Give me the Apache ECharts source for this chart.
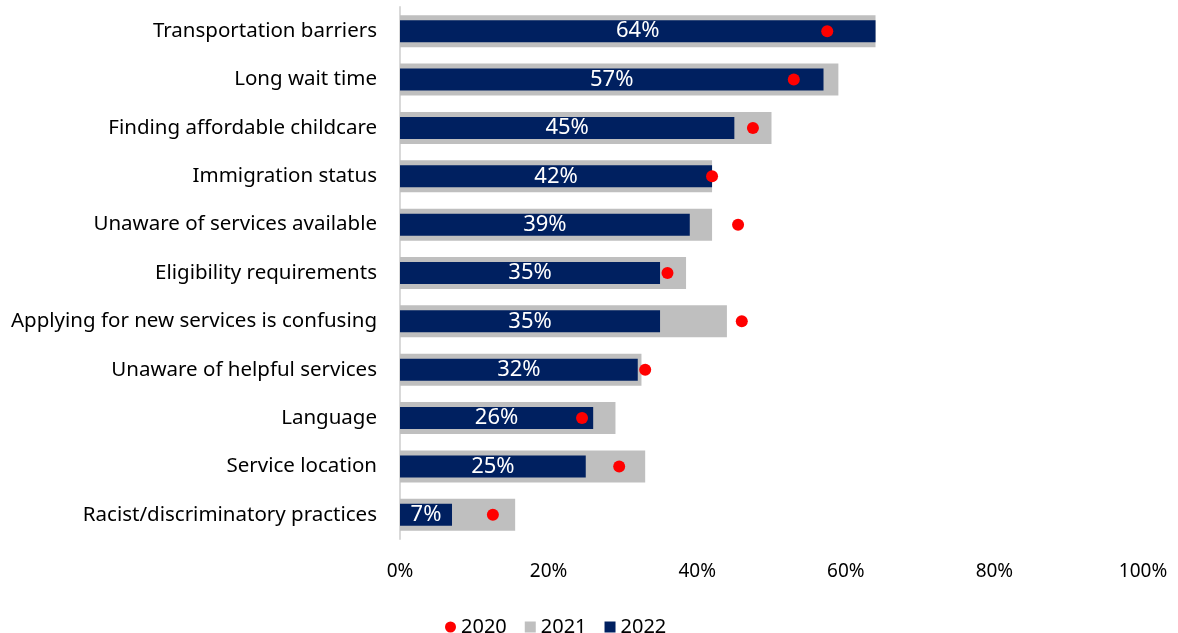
<!DOCTYPE html>
<html>
<head>
    <meta charset="UTF-8">
    <title>barriers</title>
    <script src="https://cdn.jsdelivr.net/npm/echarts@6/dist/echarts.min.js"></script>
    <style>
        *{margin:0;padding:0}
        html, body{ width:100%; height:100%; background:#fff; }
        #main{ width:1178px; height:633px; }
    </style>
</head>
<body>
    <div id="main"></div>
    <script type="text/javascript">
        var categories = [
            'Transportation barriers',
            'Long wait time',
            'Finding affordable childcare',
            'Immigration status',
            'Unaware of services available',
            'Eligibility requirements',
            'Applying for new services is confusing',
            'Unaware of helpful services',
            'Language',
            'Service location',
            'Racist/discriminatory practices'
        ];
        var values2020 = [57.5, 53, 47.5, 42, 45.5, 36, 46, 33, 24.5, 29.5, 12.5];
        var values2021 = [64, 59, 50, 42, 42, 38.5, 44, 32.5, 29, 33, 15.5];
        var values2022 = [64, 57, 45, 42, 39, 35, 35, 32, 26, 25, 7];
        var xTicks = [0, 20, 40, 60, 80, 100];

        var font = 'Noto Sans';
        var myChart = echarts.init(document.getElementById('main'));
        var option = {
            animation: false,
            textStyle: { fontFamily: font },
            grid: { left: 400, right: 35, top: 7, bottom: 94, containLabel: false },
            legend: {
                top: 612,
                left: 440,
                itemGap: 18,
                itemWidth: 11,
                itemHeight: 11,
                textStyle: { fontSize: 20, color: '#000', fontFamily: font },
                data: [
                    { name: '2020', icon: 'circle' },
                    { name: '2021', icon: 'rect' },
                    { name: '2022', icon: 'rect' }
                ]
            },
            xAxis: {
                type: 'value',
                min: xTicks[0],
                max: xTicks[xTicks.length - 1],
                interval: 20,
                axisLine: { show: false },
                axisTick: { show: false },
                splitLine: { show: false },
                axisLabel: { formatter: '{value}%', fontSize: 19, color: '#000', margin: 23 }
            },
            yAxis: [
                {
                    type: 'category',
                    data: categories,
                    inverse: true,
                    axisLine: { show: true, lineStyle: { color: '#d9d9d9', width: 2 } },
                    axisTick: { show: false },
                    axisLabel: { fontSize: 20.5, color: '#000', margin: 23 }
                },
                {
                    type: 'category',
                    data: categories,
                    inverse: true,
                    position: 'left',
                    axisLine: { show: false },
                    axisTick: { show: false },
                    axisLabel: { show: false }
                }
            ],
            series: [
                {
                    name: '2021',
                    type: 'bar',
                    yAxisIndex: 0,
                    data: values2021,
                    barWidth: 32,
                    itemStyle: { color: '#bfbfbf' },
                    z: 1
                },
                {
                    name: '2022',
                    type: 'bar',
                    yAxisIndex: 1,
                    data: values2022,
                    barWidth: 22,
                    itemStyle: { color: '#002060' },
                    label: {
                        show: true,
                        position: 'inside',
                        color: '#fff',
                        fontSize: 22,
                        formatter: '{c}%'
                    },
                    z: 2
                },
                {
                    name: '2020',
                    type: 'scatter',
                    yAxisIndex: 1,
                    data: values2020,
                    symbol: 'circle',
                    symbolSize: 12,
                    itemStyle: { color: '#ff0000', opacity: 1 },
                    z: 3
                }
            ]
        };
        myChart.setOption(option);
    </script>
</body>
</html>
